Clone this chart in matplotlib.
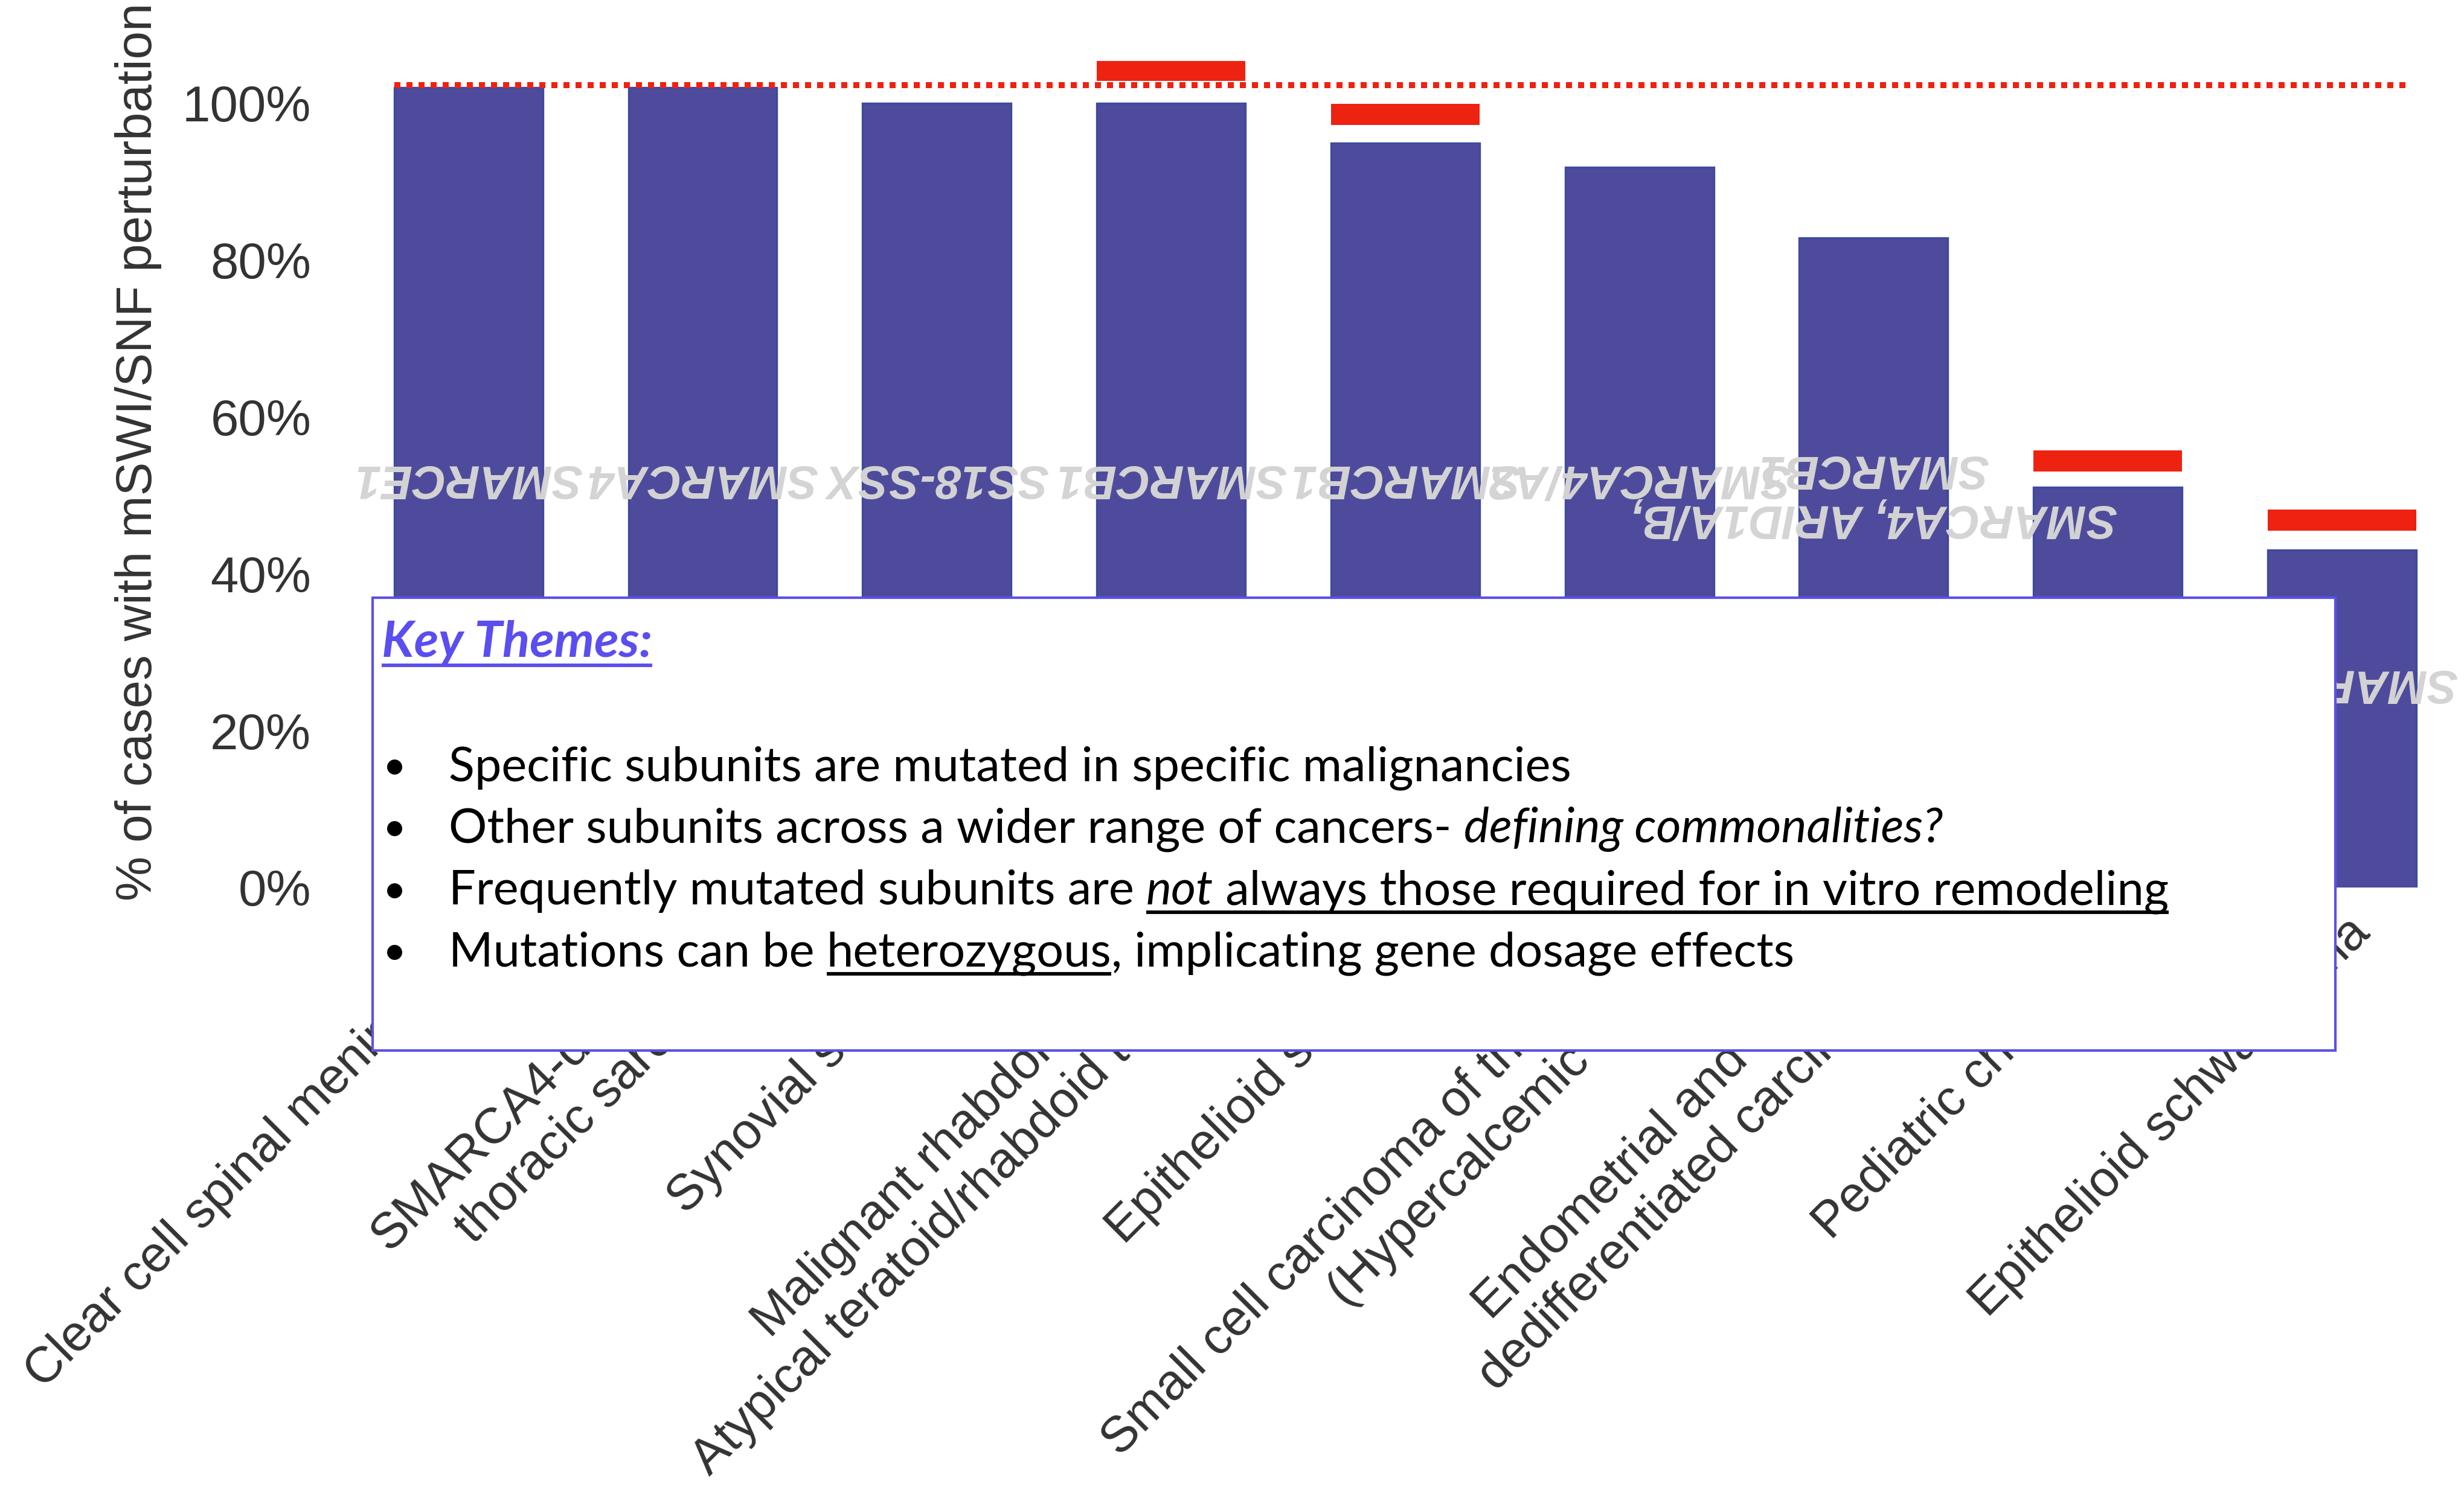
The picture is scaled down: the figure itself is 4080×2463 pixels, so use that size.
import numpy as np
import matplotlib
matplotlib.use("Agg")
import matplotlib.pyplot as plt
import matplotlib.transforms as mtransforms
from matplotlib.patches import Rectangle

# Tumour types and share of cases with an mSWI/SNF subunit perturbation (%)
categories = [
    "Clear cell spinal meningioma",
    "SMARCA4-deficient\nthoracic sarcoma",
    "Synovial sarcoma",
    "Malignant rhabdoid tumor\nAtypical teratoid/rhabdoid tumor",
    "Epithelioid sarcoma",
    "Small cell carcinoma of the ovary\n(Hypercalcemic type)",
    "Endometrial and ovarian\ndedifferentiated carcinoma",
    "Pediatric chordoma",
    "Epithelioid schwannoma",
]
perturbed = [102.0, 102.0, 100.0, 100.0, 94.9, 91.8, 82.8, 51.0, 43.0]

# upper ranges reported for some tumour types (%), nan where none
range_low = [np.nan, np.nan, np.nan, 102.8, 97.2, np.nan, np.nan, 53.0, 45.5]
range_high = [np.nan, np.nan, np.nan, 105.4, 99.9, np.nan, np.nan, 55.7, 48.2]
reference_level = 102.3

# subunit annotations and the height they sit at (%)
subunits = ["SMARCE1", "SMARCA4", "SS18-SSX", "SMARCB1", "SMARCB1",
            "SMARCA4/A2", "SMARCA4, ARID1A/B,\nSMARCB1", "SMARCB1", "SMARCB1"]
subunit_y = [52.2, 52.2, 52.2, 52.2, 52.2, 52.2, 50.3, 26.1, 26.1]

yticks = [0, 20, 40, 60, 80, 100]
ytick_labels = ["0%", "20%", "40%", "60%", "80%", "100%"]

key_title = "Key Themes:"
key_lines = [
    [("Specific subunits are mutated in specific malignancies", "normal", False)],
    [("Other subunits across a wider range of cancers- ", "normal", False),
     ("defining commonalities?", "italic", False)],
    [("Frequently mutated subunits are ", "normal", False),
     ("not", "italic", True),
     (" always those required for in vitro remodeling", "normal", True)],
    [("Mutations can be ", "normal", False),
     ("heterozygous", "normal", True),
     (", implicating gene dosage effects", "normal", False)],
]

BAR = "#4f4b9c"
RED = "#ee2211"
GREY_TXT = "#333333"
SANS = ["Liberation Sans", "DejaVu Sans"]
BODY = ["Lato", "DejaVu Sans"]

W, H, DPI = 4080, 2463, 300
fig = plt.figure(figsize=(W / DPI, H / DPI), dpi=DPI)
ax = fig.add_axes([0.1426, 0.4032, 0.8554, 0.5802])

x = np.arange(len(categories))
bw = 0.634
ax.bar(x, perturbed, width=bw, color=BAR, edgecolor="#3d4a9c", linewidth=0.8, zorder=2)
ax.bar(x, np.array(range_high) - np.array(range_low), bottom=range_low, width=bw,
       color=RED, linewidth=0, zorder=2)
ax.hlines(reference_level, x[0] - bw / 2, x[-1] + bw / 2 - 0.04, color=RED,
          linewidth=2.4, linestyles=(0, (1, 1)), zorder=3)

for xi, lab, yy in zip(x, subunits, subunit_y):
    ax.text(xi, yy, lab, rotation=180, ha="center", va="center", multialignment="center",
            fontsize=18.5, fontweight="bold", fontstyle="italic", color="#d4d4d4",
            family=SANS, zorder=4, clip_on=False, linespacing=1.15)

ax.set_xlim(-0.5, len(categories) - 0.5)
ax.set_ylim(0, 110)
ax.set_yticks(yticks)
ax.set_yticklabels(ytick_labels, fontsize=20, color=GREY_TXT, family=SANS)
ax.set_xticks(x)
ax.set_xticklabels(categories, rotation=45, ha="right", va="center", rotation_mode="anchor",
                   fontsize=20, color=GREY_TXT, family=SANS)
ax.tick_params(axis="y", length=0, pad=16)
ax.tick_params(axis="x", length=0, pad=10)
shift = mtransforms.ScaledTranslation(8 / 72, -5 / 72, fig.dpi_scale_trans)
shift2 = mtransforms.ScaledTranslation(5 / 72, -13 / 72, fig.dpi_scale_trans)
for lab in ax.get_xticklabels():
    extra = shift2 if "\n" in lab.get_text() else shift
    lab.set_transform(lab.get_transform() + extra)
for s in ax.spines.values():
    s.set_visible(False)
ax.set_ylabel("% of cases with mSWI/SNF perturbation", fontsize=20, color=GREY_TXT,
              family=SANS)
ax.yaxis.set_label_coords(-0.09, 0.505)

# overlay in pixel units for the text box
ov = fig.add_axes([0, 0, 1, 1], zorder=10)
ov.set_xlim(0, W)
ov.set_ylim(H, 0)
ov.axis("off")
ov.add_patch(Rectangle((617, 990), 3250, 750, facecolor="white", edgecolor="#5b50e8",
                       linewidth=1.0))

renderer = fig.canvas.get_renderer()


def text_width(s, **kw):
    t = ov.text(0, 0, s + "|", **kw)
    w1 = t.get_window_extent(renderer).width
    t.set_text("|")
    w2 = t.get_window_extent(renderer).width
    t.remove()
    return w1 - w2


body_size = 18 * 1857 / text_width(key_lines[0][0][0], fontsize=18, family=BODY)
title_kw = dict(fontsize=18, family=BODY, fontweight="bold", fontstyle="italic")
title_size = 18 * 448 / text_width(key_title, **title_kw)
title_kw["fontsize"] = title_size

ov.text(632, 1088, key_title, va="baseline", ha="left", color="#5a4ef0", **title_kw)
tw = text_width(key_title, **title_kw)
ov.plot([632, 632 + tw], [1102, 1102], color="#5a4ef0", linewidth=1.4,
        solid_capstyle="butt")

baselines = [1293, 1395, 1498, 1600]
for runs, yb in zip(key_lines, baselines):
    ov.text(634, yb - 2, "\u2022", va="baseline", ha="left", fontsize=body_size * 0.85,
            family=BODY, color="black")
    xc = 743
    for s, style, under in runs:
        kw = dict(fontsize=body_size, family=BODY, fontstyle=style)
        ov.text(xc, yb, s, va="baseline", ha="left", color="black", **kw)
        w = text_width(s, **kw)
        if under:
            ov.plot([xc, xc + w], [yb + 13, yb + 13], color="black", linewidth=1.4,
                    solid_capstyle="butt")
        xc += w

fig.savefig("out.png", dpi=DPI)
